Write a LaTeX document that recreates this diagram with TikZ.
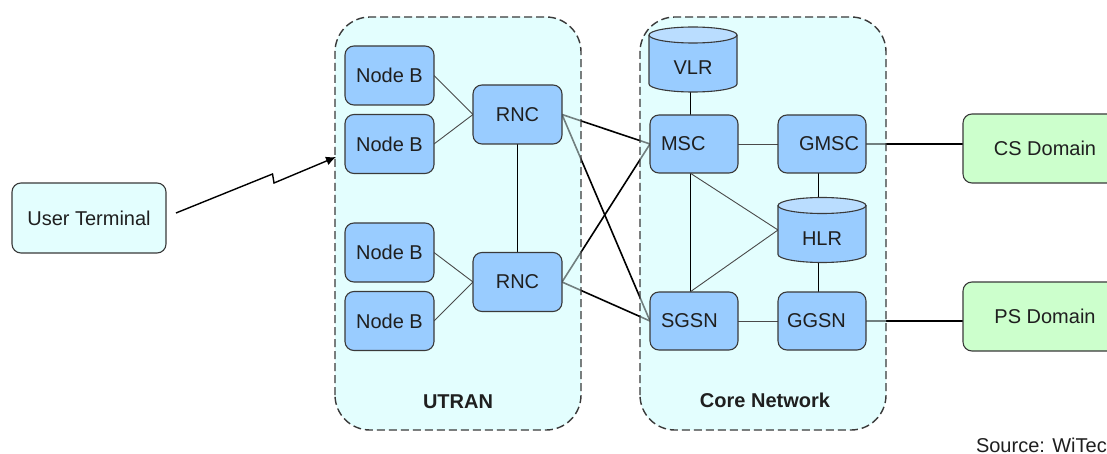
\documentclass[tikz,border=0pt]{standalone}
\usepackage{fontspec}
\setmainfont{Liberation Sans}
\usetikzlibrary{arrows.meta}

\pgfdeclarelayer{back}
\pgfdeclarelayer{cross}
\pgfdeclarelayer{veil}
\pgfsetlayers{back,cross,veil,main}

\definecolor{panel}{HTML}{E3FEFE}
\definecolor{unit}{HTML}{99CCFF}
\definecolor{unittop}{HTML}{BADDFF}
\definecolor{domain}{HTML}{CCFFCC}
\definecolor{edge}{HTML}{3A3A3A}
\definecolor{wire}{HTML}{4A4A4A}

\tikzset{
  every node/.style={font=\fontsize{20}{24}\selectfont, text=black!88, inner sep=0pt, outer sep=0pt},
  box/.style={draw=edge, line width=1.1pt, rounded corners=9pt, fill=unit,
              minimum width=89pt, minimum height=59pt},
  corebox/.style={box, minimum width=88pt, minimum height=58pt},
  drum/.style={minimum width=88pt, minimum height=65pt, text height=31pt, text depth=0pt},
  terminal/.style={box, fill=panel, minimum width=154pt, minimum height=70pt},
  domainbox/.style={box, fill=domain, minimum width=164pt, minimum height=69pt},
  panelbg/.style={fill=panel, rounded corners=35pt, minimum width=246pt, minimum height=413pt},
  panelveil/.style={fill=panel, fill opacity=0.5, rounded corners=35pt},
  panelrim/.style={draw=edge, line width=1.4pt, dash pattern=on 8pt off 4pt, rounded corners=35pt},
  title/.style={font=\bfseries\fontsize{20}{24}\selectfont},
  link/.style={draw=wire, line width=0.9pt},
  trunk/.style={draw=black, line width=1.6pt},
}

% database cylinder drawn around a named node
\newcommand\drawdrum[1]{%
  \path[fill=unit] ([yshift=-8pt]#1.north west) -- ([yshift=8pt]#1.south west)
    arc[start angle=180, end angle=360, x radius=44pt, y radius=8pt]
    -- ([yshift=-8pt]#1.north east)
    arc[start angle=0, end angle=180, x radius=44pt, y radius=8pt] -- cycle;
  \draw[draw=edge, line width=1.1pt] ([yshift=-8pt]#1.north west) -- ([yshift=8pt]#1.south west)
    arc[start angle=180, end angle=360, x radius=44pt, y radius=8pt]
    -- ([yshift=-8pt]#1.north east);
  \filldraw[fill=unittop, draw=edge, line width=1.1pt]
    ([yshift=-8pt]#1.north) ellipse[x radius=44pt, y radius=8pt];
}

\begin{document}
\begin{tikzpicture}[x=1pt, y=1pt]
\useasboundingbox (0,0) rectangle (1107,-454);
\clip (0,0) rectangle (1107,-454);

% page and network panels
\begin{pgfonlayer}{back}
  \fill[white] (0,0) rectangle (1107,-454);
  \node[panelbg] (utran) at (458,-223.5) {};
  \node[panelbg] (core)  at (763,-223.5) {};
\end{pgfonlayer}

% access side
\node[terminal] (ut) at (89,-218) {User Terminal};

\node[box] (nb1) at (389.5,-75.5) {Node B};
\node[box] (nb2) at (389.5,-144) {Node B};
\node[box] (nb3) at (389.5,-252.5) {Node B};
\node[box] (nb4) at (389.5,-321) {Node B};
\node[box] (rnc1) at (517.5,-114.5) {RNC};
\node[box] (rnc2) at (517.5,-282) {RNC};
\node[title] (utranlbl) at (458,-402) {UTRAN};

% core side
\node[drum] (vlr) at (693,-59.5) {VLR};
\node[corebox, text width=66pt, align=left] (msc) at (694,-144) {MSC};
\node[corebox, text width=74pt, align=right] (gmsc) at (822,-144) {GMSC};
\node[drum] (hlr) at (822,-230) {HLR};
\node[corebox, text width=66pt, align=left] (sgsn) at (694,-321) {SGSN};
\node[corebox, text width=70pt, align=left] (ggsn) at (822,-321) {GGSN};
\node[title] (corelbl) at (765,-400) {Core Network};

% external domains
\node[domainbox] (csd) at (1045,-148.5) {CS Domain};
\node[domainbox] (psd) at (1045,-316.5) {PS Domain};

\node[anchor=base west] (src) at (976,-452) {Source: WiTec};

% links between the panels
\begin{pgfonlayer}{cross}
  \draw[trunk] (rnc1.east) -- (msc.west);
  \draw[trunk] (rnc1.east) -- (sgsn.west);
  \draw[trunk] (rnc2.east) -- (msc.west);
  \draw[trunk] (rnc2.east) -- (sgsn.west);
  \draw[trunk] (gmsc.east) -- (gmsc.east -| csd.west);
  \draw[trunk] (ggsn.east) -- (ggsn.east -| psd.west);
\end{pgfonlayer}

\begin{pgfonlayer}{veil}
  \path[panelveil] (utran.south west) rectangle (utran.north east);
  \path[panelveil] (core.south west) rectangle (core.north east);
  \path[panelrim] (utran.south west) rectangle (utran.north east);
  \path[panelrim] (core.south west) rectangle (core.north east);

  % links inside the panels
  \draw[link] (nb1.east) -- (rnc1.west);
  \draw[link] (nb2.east) -- (rnc1.west);
  \draw[link] (nb3.east) -- (rnc2.west);
  \draw[link] (nb4.east) -- (rnc2.west);
  \draw[link, draw=black] (rnc1.south) -- (rnc2.north);

  \draw[link, draw=black] ([xshift=-3pt]vlr.south) -- ([xshift=-4pt]msc.north);
  \draw[link] (msc.east) -- (gmsc.west);
  \draw[link, draw=black] ([xshift=-4pt]msc.south) -- ([xshift=-4pt]sgsn.north);
  \draw[link] ([xshift=-4pt]msc.south) -- (hlr.west);
  \draw[link] ([xshift=-4pt]sgsn.north) -- (hlr.west);
  \draw[link, draw=black] ([xshift=-4pt]gmsc.south) -- ([xshift=-4pt]hlr.north);
  \draw[link, draw=black] ([xshift=-4pt]hlr.south) -- ([xshift=-4pt]ggsn.north);
  \draw[link] (sgsn.east) -- (ggsn.west);

  \drawdrum{vlr}
  \drawdrum{hlr}
\end{pgfonlayer}

% radio link from the terminal
\coordinate (zigA) at (272.5,-174);
\coordinate (zigB) at (274,-183);
\coordinate (tip) at (336,-157);
\draw[black, line width=1.4pt, -{Latex[length=10pt,width=9pt]}]
  ([shift={(10pt,5pt)}]ut.east) -- (zigA) -- (zigB) -- (tip);
\end{tikzpicture}
\end{document}
